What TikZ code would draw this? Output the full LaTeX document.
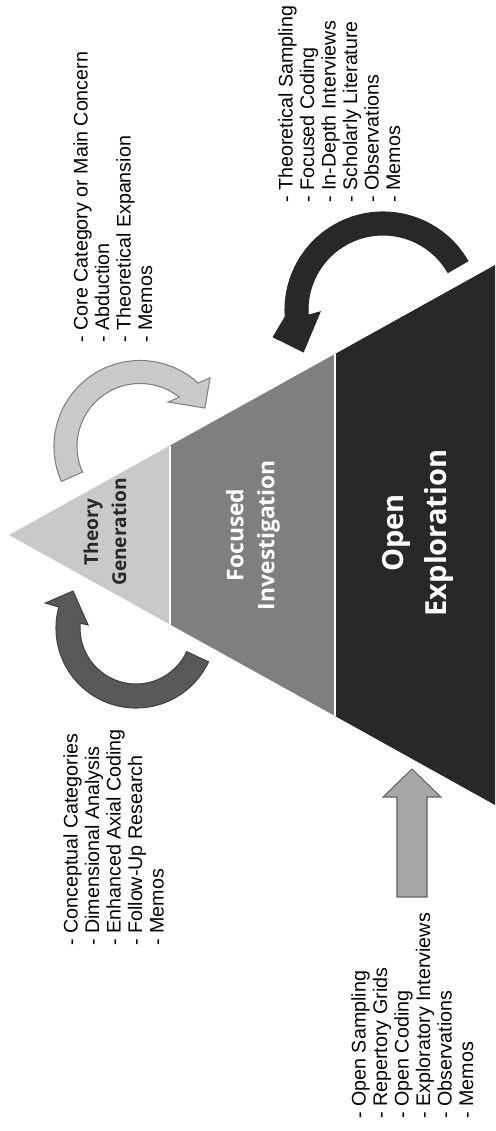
\documentclass[tikz,border=0pt]{standalone}
\usepackage{fontspec}
\setmainfont{Liberation Sans}
\newfontfamily\tierfont{Open Sans}
\definecolor{tierlight}{HTML}{C9C9C9}
\definecolor{tiermid}{HTML}{7F7F7F}
\definecolor{tierdark}{HTML}{282828}
\tikzset{
  tier/.style={draw=white, line width=1.2pt},                     % white split between tiers
  steplist/.style={rotate=90, anchor=north west, inner sep=0pt, align=left,
    font=\fontsize{11.2}{12.25}\selectfont},                       % bullet lists, read upwards
  tierlabel/.style={rotate=90, align=center, inner sep=0pt},       % names inside the triangle
  larrow/.style={fill=tierlight, draw=black!50, line width=0.6pt}, % light loop arrow
  darrow/.style={fill=black!65, draw=black!75, line width=0.6pt},  % dark loop arrow
  karrow/.style={fill=tierdark, draw=tierdark, line width=0.6pt},  % black loop arrow
  uparrow/.style={fill=black!35, draw=black!60, line width=0.6pt}, % straight block arrow
}
\begin{document}
\begin{tikzpicture}[x=0.02cm, y=0.02cm]
  \useasboundingbox (0,0) rectangle (495,-1131);
  % triangle, apex on the left
  \coordinate (apex) at (9,-535);
  \fill[tierlight] (apex) -- (170,-445.5) -- (170,-624.5) -- cycle;
  \fill[tiermid] (170,-445.5) -- (335,-354) -- (335,-716) -- (170,-624.5) -- cycle;
  \fill[tierdark] (335,-354) -- (495,-265) -- (495,-805) -- (335,-716) -- cycle;
  \draw[tier] (170,-445.5) -- (170,-624.5);
  \draw[tier] (335,-354) -- (335,-716);
  \node[tierlabel, text=tierdark, font=\tierfont\bfseries\fontsize{10.9}{15.9}\selectfont]
    (theory) at (105,-532) {Theory\\Generation};
  \node[tierlabel, text=white, font=\tierfont\bfseries\fontsize{13}{17.6}\selectfont]
    (focused) at (253,-535) {Focused\\Investigation};
  \node[tierlabel, text=white, font=\tierfont\bfseries\fontsize{16.5}{25}\selectfont]
    (open) at (418,-533) {Open\\Exploration};
  % loop arrows
  \begin{scope}[shift={(140,-446.5)}]
    \draw[larrow] (204:86) arc[start angle=204, end angle=47.6, radius=86]
      -- (44.4:98) -- (30.6:75.5) -- (57.8:52.6) -- (51.5:63)
      arc[start angle=51.5, end angle=204, radius=63] -- cycle;
  \end{scope}
  \begin{scope}[shift={(136,-628)}]
    \draw[darrow] (-25:80) arc[start angle=-25, end angle=-195.2, radius=80]
      -- (164.6:94) -- (149.6:73) -- (176.4:48) -- (175:56)
      arc[start angle=175, end angle=335, radius=56] -- cycle;
  \end{scope}
  \begin{scope}[shift={(383,-310)}]
    \draw[karrow] (30:98) arc[start angle=30, end angle=184, radius=98]
      -- (193.8:113) -- (207.7:90) -- (181.8:63) -- (184:75)
      arc[start angle=184, end angle=30, radius=75] -- cycle;
  \end{scope}
  \draw[uparrow] (397,-897) -- (397,-797) -- (383,-797) -- (412,-769)
    -- (441,-797) -- (427,-797) -- (427,-897) -- cycle;
  % lists
  \node[steplist] (focuslist) at (278,-203)
    {- Theoretical Sampling\\- Focused Coding\\- In-Depth Interviews\\- Scholarly Literature\\- Observations\\- Memos};
  \node[steplist] (theorylist) at (73,-343)
    {- Core Category or Main Concern\\- Abduction\\- Theoretical Expansion\\- Memos};
  \node[steplist] (axiallist) at (63,-946)
    {- Conceptual Categories\\- Dimensional Analysis\\- Enhanced Axial Coding\\- Follow-Up Research\\- Memos};
  \node[steplist] (openlist) at (351,-1119)
    {- Open Sampling\\- Repertory Grids\\- Open Coding\\- Exploratory Interviews\\- Observations\\- Memos};
\end{tikzpicture}
\end{document}
